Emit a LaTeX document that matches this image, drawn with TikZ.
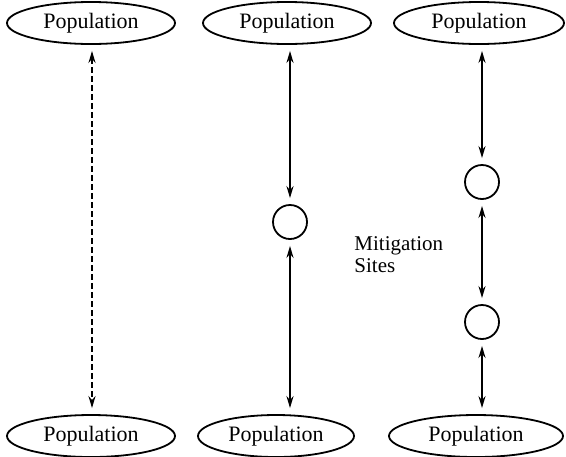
\documentclass[tikz,border=0pt]{standalone}
\usepackage{fontspec}
\setmainfont{Liberation Serif}
\usetikzlibrary{arrows.meta,shapes.geometric}

\begin{document}
\begin{tikzpicture}[x=0.5pt,y=-0.5pt,
  pop/.style={draw,ellipse,line width=0.9pt,minimum height=21pt,inner sep=0pt,font=\fontsize{11}{12}\selectfont},
  site/.style={draw,circle,line width=0.9pt,minimum size=17pt,inner sep=0pt},
  link/.style={line width=1pt,{Stealth[length=6pt,width=3.5pt]}-{Stealth[length=6pt,width=3.5pt]},shorten <=3pt,shorten >=3pt}]
\useasboundingbox (0,0) rectangle (566,456);
% populations
\node[pop,minimum width=84pt] (pa1) at (91,23) {Population};
\node[pop,minimum width=84pt] (pa2) at (287,23) {Population};
\node[pop,minimum width=85pt] (pa3) at (479,23) {Population};
\node[pop,minimum width=84pt] (pb1) at (91,436) {Population};
\node[pop,minimum width=78pt] (pb2) at (276,436) {Population};
\node[pop,minimum width=87pt] (pb3) at (476,436) {Population};
% mitigation sites
\node[site] (c2) at (290,222) {};
\node[site] (c3a) at (482,182) {};
\node[site] (c3b) at (482,322) {};
\node[anchor=north west,align=left,inner sep=0pt,font=\fontsize{10.5}{11}\selectfont] (lab) at (354,236) {Mitigation\\Sites};
% links
\draw[link,dashed,dash pattern=on 3pt off 1.5pt] (pa1.south -| 92,0) -- (pb1.north -| 92,0);
\draw[link] (pa2.south -| c2) -- (c2);
\draw[link] (c2) -- (c2 |- pb2.north);
\draw[link] (pa3.south -| c3a) -- (c3a);
\draw[link] (c3a) -- (c3b);
\draw[link] (c3b) -- (c3b |- pb3.north);
\end{tikzpicture}
\end{document}
